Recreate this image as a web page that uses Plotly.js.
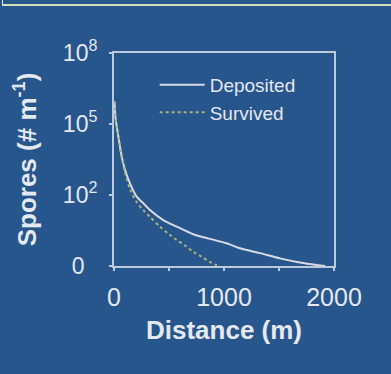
<!DOCTYPE html>
<html>
<head>
<meta charset="utf-8">
<script src="https://cdn.plot.ly/plotly-3.0.1.min.js"></script>
<style>
html,body{margin:0;padding:0;background:#27568c;}
#wrap{position:relative;width:391px;height:374px;overflow:hidden;background:#27568c;}
#topbar{position:absolute;left:2px;top:0;width:389px;height:4px;border-left:1px solid #dfe6ee;border-bottom:2px solid #cfe0b6;}
#chart{position:absolute;left:0;top:0;width:391px;height:374px;}
</style>
</head>
<body>
<div id="wrap">
<div id="chart"></div>
<div id="topbar"></div>
</div>
<script>
// Distance (m) and spores per metre
const depositedDistance = [5, 15, 40, 70, 100, 145, 206, 267, 327, 448, 570, 721, 873, 1024, 1145, 1327, 1509, 1691, 1842, 1920];
const depositedSpores   = [8.9e5, 1.6e5, 2.9e4, 4200, 1150, 310, 85, 45, 23, 8.7, 4.6, 2.2, 1.4, 0.91, 0.56, 0.35, 0.21, 0.14, 0.11, 0.1];
const survivedDistance  = [5, 15, 40, 70, 100, 145, 206, 267, 327, 418, 500, 570, 650, 721, 800, 870, 930, 960];
const survivedSpores    = [8.9e5, 1.6e5, 2.9e4, 3800, 890, 180, 50, 23, 12, 4.6, 2.2, 1.26, 0.71, 0.4, 0.24, 0.15, 0.11, 0.1];
const seriesNames = ["Deposited", "Survived"];
const xTickVals = [0, 500, 1000, 1500, 2000];
const xTickText = ["0", "", "1000", "", "2000"];
const yTickVals = [0.1, 100, 1e5, 1e8];
const yTickText = ["0\u00a0\u00a0", "10<sup>2</sup>", "10<sup>5</sup>", "10<sup>8</sup>"];

const fg = "#e4e8f0";
const axisCol = "rgba(215,222,235,0.85)";

const traces = [
  {x: depositedDistance, y: depositedSpores, name: seriesNames[0], type: "scatter", mode: "lines",
   line: {color: "#d6dbe6", width: 2, shape: "spline", smoothing: 0.8}},
  {x: survivedDistance, y: survivedSpores, name: seriesNames[1], type: "scatter", mode: "lines",
   line: {color: "#a7b27e", width: 2, dash: "dot", shape: "spline", smoothing: 0.8}}
];

const layout = {
  width: 391, height: 374,
  paper_bgcolor: "#27568c", plot_bgcolor: "#27568c",
  margin: {l: 114, r: 57, t: 53, b: 108},
  font: {family: "Liberation Sans, Arial, sans-serif", color: fg},
  showlegend: true,
  legend: {x: 0.185, y: 0.94, xanchor: "left", yanchor: "top", bgcolor: "rgba(0,0,0,0)",
           font: {size: 19, color: fg}, itemwidth: 45, tracegroupgap: 0},
  xaxis: {
    range: [0, 2000], tickmode: "array", tickvals: xTickVals, ticktext: xTickText,
    showgrid: false, zeroline: false, showline: true, mirror: true, linecolor: axisCol, linewidth: 2,
    ticks: "outside", ticklen: 3, tickcolor: axisCol, tickwidth: 1.5, ticklabelstandoff: 5,
    tickfont: {size: 25, color: fg},
    title: {text: "<b>Distance (m)</b>", font: {size: 26, color: fg}, standoff: 11}
  },
  yaxis: {
    type: "log", range: [-1, 8], tickmode: "array", tickvals: yTickVals, ticktext: yTickText,
    showgrid: false, zeroline: false, showline: true, mirror: true, linecolor: axisCol, linewidth: 2,
    ticks: "outside", ticklen: 3, tickcolor: axisCol, tickwidth: 1.5, ticklabelstandoff: 7,
    tickfont: {size: 23, color: fg},
    title: {text: "<b>Spores (# m<sup>-1</sup>)</b>", font: {size: 26, color: fg}, standoff: 19}
  }
};

Plotly.newPlot("chart", traces, layout, {displayModeBar: false, staticPlot: true});
</script>
</body>
</html>
